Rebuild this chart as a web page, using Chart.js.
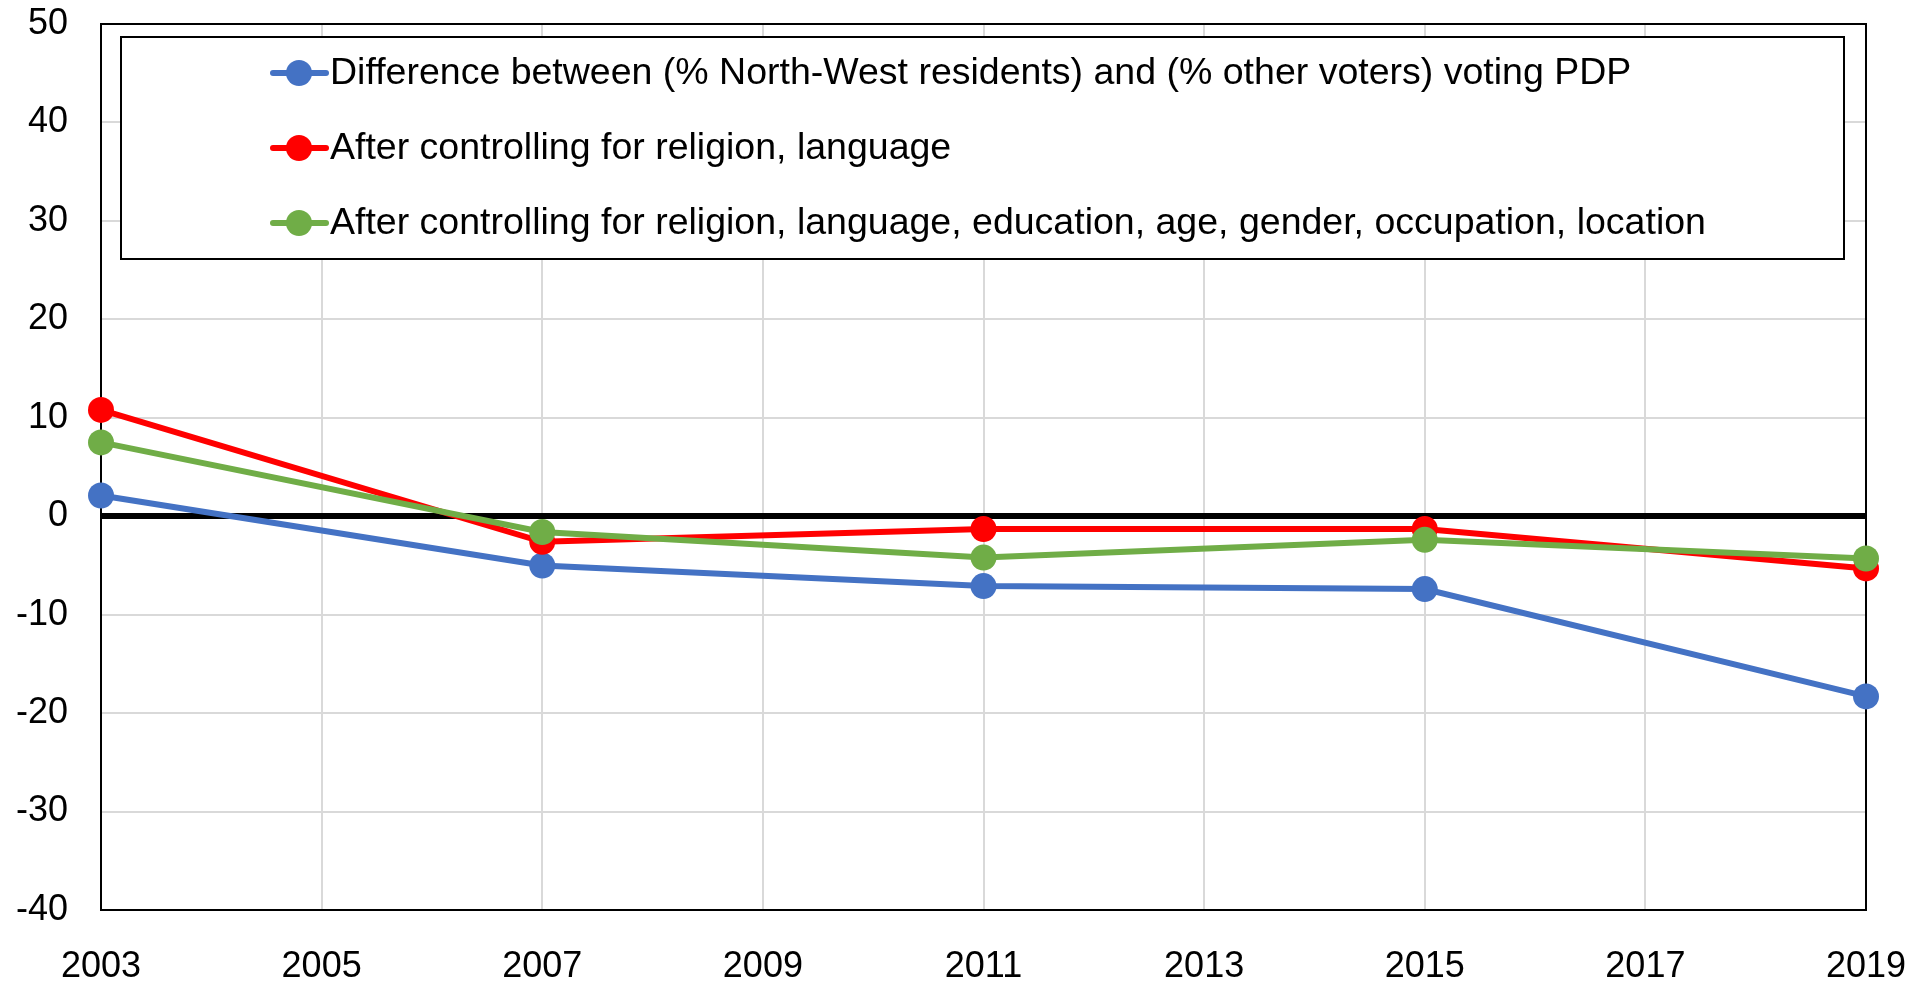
<!DOCTYPE html>
<html>
<head>
<meta charset="utf-8">
<script src="https://cdn.jsdelivr.net/npm/chart.js@4"></script>
<style>
  html, body { margin: 0; padding: 0; background: #fff; }
  #wrap { width: 1928px; height: 984px; }
</style>
</head>
<body>
<div id="wrap"><canvas id="grafico"></canvas></div>
<script>
const anios = [2003, 2007, 2011, 2015, 2019];
const diferencia = [2.1, -5.0, -7.1, -7.4, -18.3];        // blue
const religionIdioma = [10.8, -2.6, -1.3, -1.3, -5.3];     // red
const todosControles = [7.5, -1.6, -4.2, -2.4, -4.3];      // green

const etiquetas = [
    'Difference between (% North-West residents) and (% other voters) voting PDP',
    'After controlling for religion, language',
    'After controlling for religion, language, education, age, gender, occupation, location'
];
const colores = ['#4472C4', '#FF0000', '#70AD47'];

function puntos(valores) {
    return anios.map((a, i) => ({ x: a, y: valores[i] }));
}

const FUENTE = '"Liberation Sans", Arial, sans-serif';

// caja del area y leyenda dentro del grafico
const leyendaInterna = {
    id: 'leyendaInterna',
    beforeDatasetsDraw(chart) {
        const ctx = chart.ctx;
        const a = chart.chartArea;
        ctx.save();
        ctx.strokeStyle = '#000';
        ctx.lineWidth = 2;
        ctx.strokeRect(a.left, a.top, a.right - a.left, a.bottom - a.top);
        ctx.restore();
    },
    afterDraw(chart) {
        const ctx = chart.ctx;
        ctx.save();
        ctx.strokeStyle = '#000';
        ctx.lineWidth = 2;
        ctx.fillStyle = '#fff';
        ctx.fillRect(121, 37, 1723, 222);
        ctx.strokeRect(121, 37, 1723, 222);

        const filas = [73, 148, 223];
        ctx.font = '37.5px ' + FUENTE;
        ctx.textBaseline = 'middle';
        etiquetas.forEach((txt, i) => {
            const y = filas[i];
            ctx.strokeStyle = colores[i];
            ctx.lineWidth = 6;
            ctx.lineCap = 'round';
            ctx.beginPath();
            ctx.moveTo(273, y);
            ctx.lineTo(326, y);
            ctx.stroke();
            ctx.fillStyle = colores[i];
            ctx.beginPath();
            ctx.arc(299, y, 13, 0, Math.PI * 2);
            ctx.fill();
            ctx.fillStyle = '#000';
            ctx.fillText(txt, 330, y + 1);
        });
        ctx.restore();
    }
};

const ctx = document.getElementById('grafico').getContext('2d');
new Chart(ctx, {
    type: 'line',
    data: {
        datasets: [
            { label: etiquetas[0], data: puntos(diferencia), borderColor: colores[0], backgroundColor: colores[0], order: 3, clip: false },
            { label: etiquetas[1], data: puntos(religionIdioma), borderColor: colores[1], backgroundColor: colores[1], order: 2, clip: false },
            { label: etiquetas[2], data: puntos(todosControles), borderColor: colores[2], backgroundColor: colores[2], order: 1, clip: false }
        ]
    },
    options: {
        responsive: true,
        maintainAspectRatio: false,
        animation: false,
        layout: { padding: { left: 0, right: 62, top: 24, bottom: 0 } },
        elements: {
            line: { borderWidth: 6, tension: 0 },
            point: { radius: 13, borderWidth: 0, hoverRadius: 13 }
        },
        plugins: {
            legend: { display: false },
            tooltip: { enabled: false }
        },
        scales: {
            x: {
                type: 'linear',
                min: 2003,
                max: 2019,
                ticks: {
                    stepSize: 2,
                    color: '#000',
                    font: { family: FUENTE, size: 36 },
                    padding: 35,
                    maxRotation: 0,
                    callback: v => String(v)
                },
                grid: { color: '#d9d9d9', lineWidth: 2, drawTicks: false },
                border: { display: false },
                afterFit(scale) {
                    scale.height = 74;
                    scale.paddingLeft = 0;
                    scale.paddingRight = 0;
                }
            },
            y: {
                min: -40,
                max: 50,
                ticks: {
                    stepSize: 10,
                    color: '#000',
                    font: { family: FUENTE, size: 36 },
                    padding: 33
                },
                grid: {
                    drawTicks: false,
                    color: c => c.tick && c.tick.value === 0 ? '#000' : '#d9d9d9',
                    lineWidth: c => c.tick && c.tick.value === 0 ? 6 : 2
                },
                border: { display: false },
                afterFit(scale) {
                    scale.width = 101;
                    scale.paddingTop = 0;
                    scale.paddingBottom = 0;
                }
            }
        }
    },
    plugins: [leyendaInterna]
});
</script>
</body>
</html>
